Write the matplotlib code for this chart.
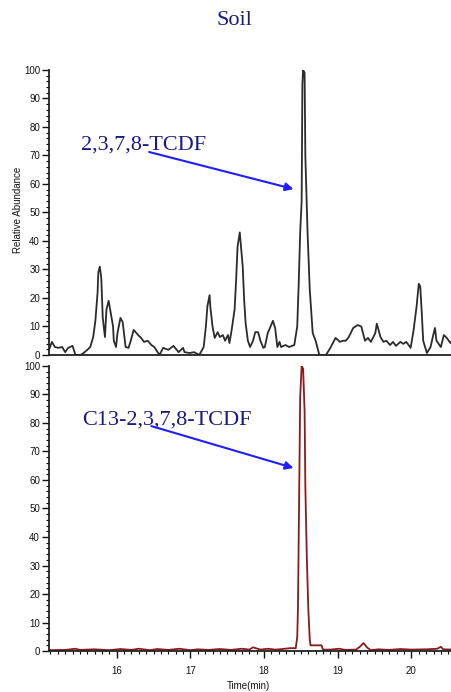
import matplotlib
matplotlib.use('Agg')
import numpy as np
from matplotlib import pyplot as plt
from matplotlib.ticker import MultipleLocator

# 2,3,7,8-TCDF trace (time in min, relative abundance %)
tcdf_time = [15.08, 15.12, 15.16, 15.21, 15.26, 15.30, 15.34, 15.40, 15.44, 15.51,
             15.55, 15.60, 15.64, 15.68, 15.71, 15.74, 15.75, 15.77, 15.79, 15.81,
             15.84, 15.86, 15.89, 15.90, 15.95, 15.96, 15.99, 16.01, 16.05, 16.08,
             16.12, 16.16, 16.19, 16.23, 16.29, 16.33, 16.37, 16.42, 16.47, 16.51,
             16.58, 16.63, 16.70, 16.77, 16.84, 16.90, 16.92, 16.99, 17.05, 17.12,
             17.18, 17.21, 17.23, 17.26, 17.27, 17.30, 17.33, 17.37, 17.40, 17.44,
             17.47, 17.51, 17.53, 17.56, 17.60, 17.62, 17.64, 17.67, 17.68, 17.71,
             17.73, 17.75, 17.78, 17.81, 17.85, 17.88, 17.92, 17.95, 17.99, 18.01,
             18.05, 18.08, 18.12, 18.15, 18.18, 18.21, 18.23, 18.29, 18.34, 18.41,
             18.45, 18.47, 18.49, 18.51, 18.52, 18.53, 18.55, 18.56, 18.59, 18.62,
             18.66, 18.70, 18.74, 18.75, 18.84, 18.90, 18.97, 19.03, 19.07, 19.11,
             19.15, 19.21, 19.27, 19.32, 19.37, 19.41, 19.45, 19.51, 19.53, 19.58,
             19.62, 19.66, 19.71, 19.75, 19.79, 19.85, 19.89, 19.93, 19.99, 20.03,
             20.07, 20.10, 20.12, 20.14, 20.16, 20.21, 20.26, 20.29, 20.32, 20.34,
             20.40, 20.44, 20.48, 20.53, 20.58]
tcdf_abund = [1.8, 4.6, 2.8, 2.5, 2.8, 1.0, 2.5, 3.2, 0.0, 0.0,
              0.7, 1.8, 2.8, 6.3, 12.0, 22.0, 29.0, 31.0, 27.0, 13.0,
              6.3, 16.0, 19.0, 17.5, 10.0, 5.0, 2.8, 7.7, 13.0, 11.6,
              2.8, 2.5, 5.0, 8.8, 7.0, 6.0, 4.6, 5.0, 3.5, 2.8,
              0.0, 2.5, 1.8, 3.2, 1.0, 2.5, 1.0, 0.7, 1.0, 0.0,
              2.8, 10.0, 17.0, 21.0, 17.0, 10.0, 6.0, 8.0, 6.3, 7.0,
              5.0, 7.0, 4.2, 8.8, 16.0, 26.0, 38.0, 43.0, 40.0, 31.0,
              19.0, 11.0, 5.0, 2.8, 5.0, 8.0, 8.0, 5.0, 2.5, 2.8,
              7.7, 9.5, 12.0, 9.5, 2.8, 4.6, 2.8, 3.5, 2.8, 3.5,
              10.0, 25.0, 43.0, 54.0, 95.0, 100.0, 99.0, 70.0, 43.0, 23.0,
              7.7, 5.0, 1.0, 0.0, 0.0, 2.5, 6.0, 4.6, 5.0, 5.0,
              6.3, 9.5, 10.5, 10.0, 5.0, 6.0, 4.6, 7.7, 11.0, 6.3,
              4.6, 5.0, 3.5, 4.6, 3.2, 4.6, 3.9, 4.6, 2.5, 8.8,
              17.0, 25.0, 24.0, 15.0, 5.0, 0.7, 2.8, 6.3, 9.5, 5.0,
              2.8, 7.0, 6.0, 4.2, 6.0]

# C13-2,3,7,8-TCDF internal standard trace
c13_time = [15.08, 15.30, 15.44, 15.50, 15.70, 15.90, 16.05, 16.20, 16.30, 16.45,
            16.55, 16.70, 16.85, 17.00, 17.10, 17.25, 17.40, 17.55, 17.70, 17.80,
            17.85, 17.95, 18.05, 18.15, 18.25, 18.35, 18.43, 18.45, 18.46, 18.47,
            18.48, 18.49, 18.51, 18.53, 18.55, 18.56, 18.58, 18.60, 18.62, 18.63,
            18.78, 18.80, 18.90, 19.02, 19.10, 19.25, 19.30, 19.35, 19.40, 19.45,
            19.55, 19.70, 19.85, 20.00, 20.20, 20.35, 20.40, 20.43, 20.58]
c13_abund = [0.3, 0.4, 0.8, 0.4, 0.6, 0.3, 0.7, 0.4, 0.8, 0.3,
             0.7, 0.4, 0.8, 0.3, 0.6, 0.4, 0.7, 0.4, 0.8, 0.5,
             1.3, 0.5, 0.8, 0.5, 0.7, 1.0, 1.0, 5.0, 15.0, 40.0,
             64.0, 89.0, 100.0, 99.0, 84.0, 58.0, 33.0, 15.0, 4.0, 2.0,
             2.0, 0.5, 0.5, 0.8, 0.4, 0.5, 1.5, 2.8, 1.2, 0.3,
             0.6, 0.4, 0.7, 0.5, 0.6, 0.8, 1.5, 0.6, 0.5]

x_range = (15.08, 20.59)

fig = plt.figure(figsize=(4.51, 6.92), dpi=100)
ax1 = fig.add_axes([0.1086, 0.487, 0.9, 0.412])
ax2 = fig.add_axes([0.1086, 0.0592, 0.9, 0.412])

tick_font = ['Liberation Sans Narrow', 'Liberation Sans', 'DejaVu Sans']
label_font = ['Liberation Serif', 'DejaVu Serif']
navy = '#1a1a80'
arrow_blue = '#1e1eff'

ax1.plot(tcdf_time, tcdf_abund, color='#2b2b2b', lw=1.3)
ax2.plot(c13_time, c13_abund, color='#8b1a1a', lw=1.3)

for ax in (ax1, ax2):
    ax.set_xlim(*x_range)
    ax.set_ylim(0, 100)
    for s in ('top', 'right'):
        ax.spines[s].set_visible(False)
    for s in ('left', 'bottom'):
        ax.spines[s].set_linewidth(1.3)
        ax.spines[s].set_color('#222222')
    ax.yaxis.set_major_locator(MultipleLocator(10))
    ax.yaxis.set_minor_locator(MultipleLocator(2))
    ax.tick_params(axis='y', which='major', length=5, width=1.0, pad=1.5,
                   labelsize=7, colors='#111111')
    ax.tick_params(axis='y', which='minor', length=2.5, width=0.8)
    for lab in ax.get_yticklabels():
        lab.set_family(tick_font)

ax1.tick_params(axis='x', which='both', bottom=False, labelbottom=False)
ax2.xaxis.set_major_locator(MultipleLocator(1))
ax2.xaxis.set_minor_locator(MultipleLocator(0.1))
ax2.tick_params(axis='x', which='major', length=5, width=1.0, pad=6,
                labelsize=7, colors='#111111')
ax2.tick_params(axis='x', which='minor', length=2.5, width=0.8)
for lab in ax2.get_xticklabels():
    lab.set_family(tick_font)

# compound labels with arrows pointing at the peak
ax1.text(15.51, 71.9, '2,3,7,8-TCDF', color=navy, fontsize=16,
         family=label_font, va='baseline', ha='left')
ax1.annotate('', xy=(18.40, 58.2), xytext=(16.44, 71.2),
             arrowprops=dict(arrowstyle='-|>', color=arrow_blue, lw=1.5,
                             mutation_scale=12, shrinkA=0, shrinkB=0))
ax2.text(15.53, 79.6, 'C13-2,3,7,8-TCDF', color=navy, fontsize=16,
         family=label_font, va='baseline', ha='left')
ax2.annotate('', xy=(18.40, 64.2), xytext=(16.47, 78.9),
             arrowprops=dict(arrowstyle='-|>', color=arrow_blue, lw=1.5,
                             mutation_scale=12, shrinkA=0, shrinkB=0))

fig.text(0.519, 0.971, 'Soil', color=navy, fontsize=16, family=label_font,
         ha='center', va='center')
fig.text(0.04, 0.697, 'Relative Abundance', rotation=90, fontsize=7,
         family=tick_font, ha='center', va='center', color='#111111')
fig.text(0.55, 0.002, 'Time(min)', fontsize=7, family=tick_font,
         ha='center', va='bottom', color='#111111')

fig.savefig('out.png', dpi=100)
